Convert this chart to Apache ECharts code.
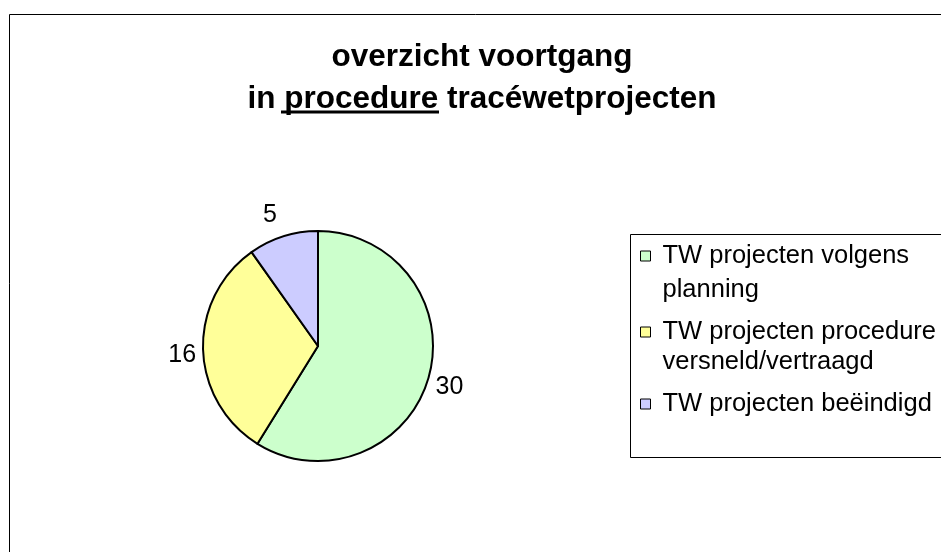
<!DOCTYPE html>
<html>
<head>
<meta charset="utf-8">
<script src="https://cdn.jsdelivr.net/npm/echarts@6/dist/echarts.min.js"></script>
<style>
  html, body { margin: 0; padding: 0; background: #fff; }
  #chart { width: 941px; height: 552px; }
</style>
</head>
<body>
<div id="chart"></div>
<script>
// data
const categories = ['TW projecten volgens planning', 'TW projecten procedure versneld/vertraagd', 'TW projecten beëindigd']
const legendLines = ['TW projecten volgens\nplanning', 'TW projecten procedure\nversneld/vertraagd', 'TW projecten beëindigd']
const values = [30, 16, 5]
const colors = ['#ccffcc', '#ffff99', '#ccccff']

// label placement tweaks (excel puts them a bit differently than echarts)
// an empty line before/after the value pushes it down/up by half a line
const labelLen = [2, 2, 4]
const labelShift = [18, 11, -35]

const font = 'Liberation Sans, Arial, sans-serif'
const chart = echarts.init(document.getElementById('chart'))

const legendTops = [205, 287, 389]
const legendLH = [34, 30, 30]

chart.setOption({
  backgroundColor: '#fff',
  animation: false,
  title: {
    text: 'overzicht voortgang\nin procedure tracéwetprojecten',
    left: 482,
    textAlign: 'center',
    top: 36,
    padding: 0,
    textStyle: {
      fontFamily: font,
      fontWeight: 'bold',
      fontSize: 31.5,
      lineHeight: 42,
      color: '#000'
    }
  },
  legend: categories.map((name, i) => ({
    data: [name],
    orient: 'vertical',
    left: 640,
    top: legendTops[i],
    padding: 0,
    selectedMode: false,
    icon: 'rect',
    itemWidth: 10,
    itemHeight: 10,
    itemStyle: {
      borderColor: '#000',
      borderWidth: 1
    },
    // leading empty line keeps the square next to the first text line
    formatter: () => (legendLines[i].indexOf('\n') > 0 ? '\n' : '') + legendLines[i],
    textStyle: {
      fontFamily: font,
      fontSize: 25.5,
      color: '#000',
      lineHeight: legendLH[i],
      padding: [0, 0, 0, 7]
    }
  })),
  graphic: [
    {
      // outer chart frame
      type: 'rect',
      shape: { x: 9.5, y: 14.5, width: 1000, height: 600 },
      style: { fill: 'none', stroke: '#000', lineWidth: 1 },
      silent: true
    },
    {
      // legend box
      type: 'rect',
      shape: { x: 630.5, y: 234.5, width: 400, height: 223 },
      style: { fill: 'none', stroke: '#000', lineWidth: 1 },
      silent: true
    },
    {
      // underline of "procedure"
      type: 'line',
      shape: { x1: 281, y1: 112, x2: 439, y2: 112 },
      style: { stroke: '#000', lineWidth: 3 },
      silent: true
    }
  ],
  series: [
    {
      type: 'pie',
      center: [318, 346],
      radius: 115,
      startAngle: 90,
      clockwise: true,
      avoidLabelOverlap: false,
      itemStyle: {
        borderColor: '#000',
        borderWidth: 2
      },
      label: {
        show: true,
        position: 'outside',
        formatter: '{c}',
        fontFamily: font,
        fontSize: 25,
        color: '#000'
      },
      labelLine: {
        show: false,
        length2: 0
      },
      emphasis: { disabled: true },
      data: categories.map((name, i) => ({
        name: name,
        value: values[i],
        itemStyle: { color: colors[i] },
        label: {
          lineHeight: Math.abs(labelShift[i]),
          formatter: labelShift[i] > 0 ? '\n{c}' : '{c}\n'
        },
        labelLine: { show: false, length: labelLen[i], length2: 0 }
      }))
    }
  ]
})
</script>
</body>
</html>
